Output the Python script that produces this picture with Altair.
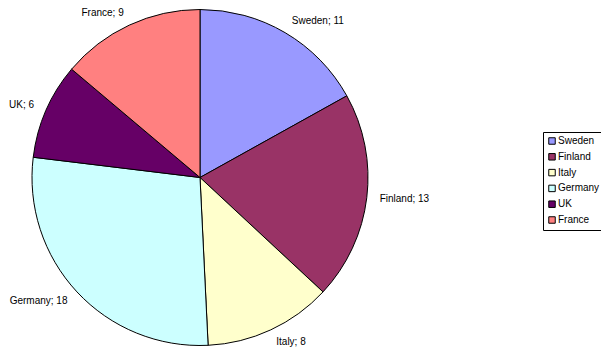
import altair as alt
import pandas as pd

countries = ["Sweden", "Finland", "Italy", "Germany", "UK", "France"]
values = [11, 13, 8, 18, 6, 9]
colors = ["#9999FF", "#993366", "#FFFFCC", "#CCFFFF", "#660066", "#FF8080"]
right_side = ["Sweden", "Finland", "Italy"]

df = pd.DataFrame({"country": countries, "value": values, "order": list(range(len(countries)))})
df["label"] = df["country"] + "; " + df["value"].astype(str)
df["label_r"] = [l if c in right_side else "" for l, c in zip(df["label"], df["country"])]
df["label_l"] = [l if c not in right_side else "" for l, c in zip(df["label"], df["country"])]

FONT = "Liberation Sans"

base = alt.Chart(df).encode(
    theta=alt.Theta("value:Q", stack=True),
    order=alt.Order("order:Q"),
)

pie = base.mark_arc(outerRadius=168, stroke="black", strokeWidth=1).encode(
    color=alt.Color(
        "country:N",
        scale=alt.Scale(domain=countries, range=colors),
        sort=countries,
        legend=alt.Legend(
            title=None,
            orient="none",
            legendX=543,
            legendY=127,
            strokeColor="black",
            padding=4,
            symbolType="square",
            symbolSize=42,
            symbolStrokeColor="black",
            symbolStrokeWidth=1,
            symbolOpacity=1,
            labelFont=FONT,
            labelFontSize=10,
            labelColor="black",
            labelOffset=1,
            rowPadding=3.8,
            fillColor="white",
        ),
    )
)

txt_r = base.mark_text(radius=181, align="left", baseline="middle", font=FONT, fontSize=10, color="black").encode(
    text="label_r:N"
)
txt_l = base.mark_text(radius=181, align="right", baseline="middle", font=FONT, fontSize=10, color="black").encode(
    text="label_l:N"
)

chart = (
    alt.layer(pie, txt_r, txt_l)
    .properties(
        width=400,
        height=345,
        padding={"left": 0, "top": 5, "right": 201, "bottom": 0},
        autosize=alt.AutoSizeParams(type="none"),
    )
    .configure_view(stroke=None)
    .configure(background="white")
)

chart.save("out.html", embed_options={"renderer": "svg", "actions": False})
